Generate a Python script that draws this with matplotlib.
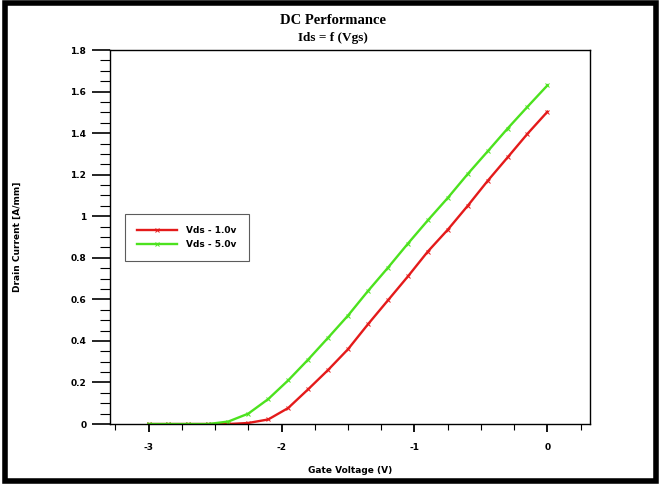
import matplotlib
matplotlib.use('Agg')
import matplotlib.pyplot as plt
from matplotlib.patches import Rectangle
from matplotlib.ticker import MultipleLocator

plt.rcParams['axes.unicode_minus'] = False

# gate voltage sweep (V)
vgs = [-3.0, -2.85, -2.7, -2.55, -2.4, -2.25, -2.1, -1.95, -1.8, -1.65, -1.5,
       -1.35, -1.2, -1.05, -0.9, -0.75, -0.6, -0.45, -0.3, -0.15, 0.0]

# drain current (A/mm)
ids_vds1 = [0.0, 0.0, 0.0, 0.0, 0.0, 0.005, 0.022, 0.077, 0.167, 0.26, 0.36,
            0.48, 0.595, 0.71, 0.83, 0.935, 1.05, 1.17, 1.283, 1.397, 1.503]
ids_vds5 = [0.0, 0.0, 0.0, 0.0, 0.012, 0.05, 0.12, 0.21, 0.31, 0.415, 0.522,
            0.64, 0.752, 0.868, 0.98, 1.088, 1.203, 1.312, 1.422, 1.527, 1.63]

labels = ['Vds - 1.0v', 'Vds - 5.0v']
colors = ['#e41a1a', '#4ce21e']

fig = plt.figure(figsize=(6.65, 4.88), dpi=100)
ax = fig.add_axes([0.1654, 0.1311, 0.7218, 0.7664])

for y, lab, c in zip([ids_vds1, ids_vds5], labels, colors):
    ax.plot(vgs, y, color=c, lw=1.7, marker='x', ms=3.5, mew=0.7, label=lab)

ax.set_xlim(-3.29, 0.32)
ax.set_ylim(0, 1.8)

ax.xaxis.set_major_locator(MultipleLocator(1))
ax.xaxis.set_minor_locator(MultipleLocator(0.25))
ax.yaxis.set_minor_locator(MultipleLocator(0.05))
ax.set_yticks([0, 0.2, 0.4, 0.6, 0.8, 1.0, 1.2, 1.4, 1.6, 1.8])
ax.set_yticklabels(['0', '0.2', '0.4', '0.6', '0.8', '1', '1.2', '1.4', '1.6', '1.8'])

ax.tick_params(axis='y', which='major', direction='out', length=13, width=1.2, pad=4,
               labelsize=6.5)
ax.tick_params(axis='y', which='minor', direction='out', length=7, width=0.8)
ax.tick_params(axis='x', which='major', direction='out', length=6, width=1.3, pad=8,
               labelsize=6.5)
ax.tick_params(axis='x', which='minor', direction='out', length=4, width=0.8)
for t in ax.get_xticklabels() + ax.get_yticklabels():
    t.set_fontweight('bold')

for s in ax.spines.values():
    s.set_linewidth(1.0)

ax.set_xlabel('Gate Voltage (V)', fontsize=6.5, fontweight='bold', labelpad=10)
ax.set_ylabel('Drain Current [A/mm]', fontsize=6.5, fontweight='bold')
ax.yaxis.set_label_coords(-0.184, 0.5)

fig.text(0.5, 0.957, 'DC Performance', ha='center', va='center',
         family='Liberation Serif', fontweight='bold', fontsize=10.5)
fig.text(0.5, 0.922, 'Ids = f (Vgs)', ha='center', va='center',
         family='Liberation Serif', fontweight='bold', fontsize=9.5)

leg = ax.legend(loc='upper left', bbox_to_anchor=(0.188, 0.5615),
                bbox_transform=fig.transFigure, fancybox=False, frameon=True,
                prop={'size': 6.5, 'weight': 'bold'}, handlelength=4.5,
                borderpad=1.3, labelspacing=0.6, handletextpad=1.0,
                borderaxespad=0)
leg.get_frame().set_edgecolor('#333333')
leg.get_frame().set_linewidth(0.8)

# thick outer border
fig.patches.append(Rectangle((5 / 665, 7 / 488), 651 / 665, 478.5 / 488,
                             transform=fig.transFigure, fill=False,
                             edgecolor='black', lw=4))

fig.savefig('out.png', dpi=100)
